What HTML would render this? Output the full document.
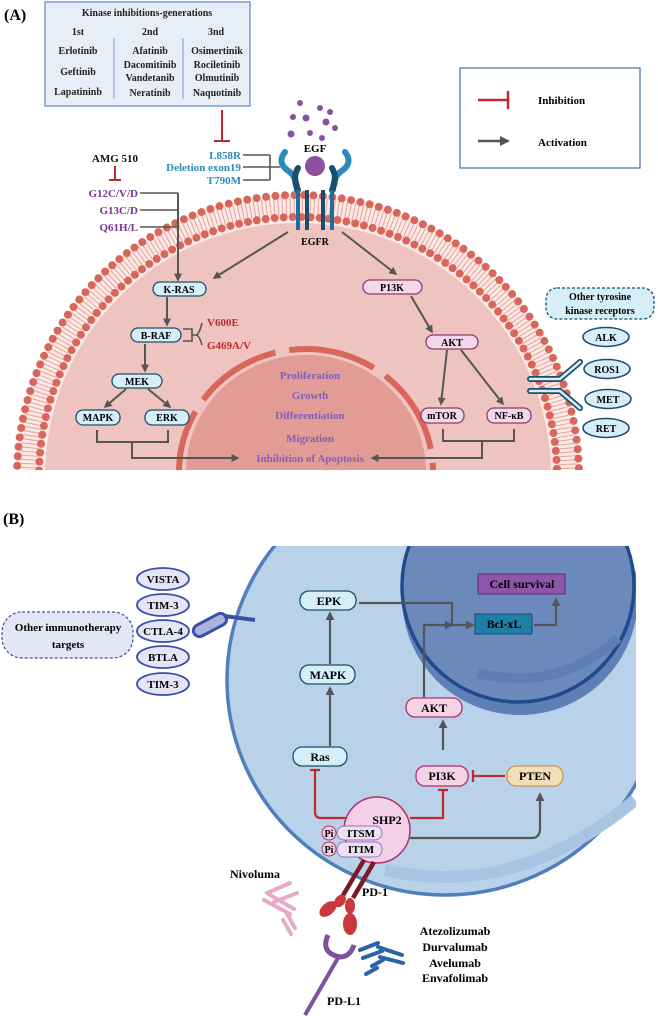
<!DOCTYPE html>
<html><head><meta charset="utf-8"><style>
body{margin:0;background:#fff;overflow:hidden}
svg{display:block}
text{font-family:"Liberation Serif",serif;font-weight:bold}
</style></head><body>
<svg width="658" height="1016" viewBox="0 0 658 1016" xmlns="http://www.w3.org/2000/svg">
<defs>
<marker id="ga" viewBox="0 0 10 10" refX="8" refY="5" markerWidth="4" markerHeight="4" orient="auto"><path d="M0,0L10,5L0,10z" fill="#555"/></marker>
<clipPath id="ca"><rect x="0" y="0" width="658" height="470"/></clipPath>
<clipPath id="cb"><rect x="0" y="546" width="636" height="470"/></clipPath>
</defs>

<!-- ===== PART A ===== -->
<text x="4" y="20" font-size="16">(A)</text>
<g clip-path="url(#ca)">
<ellipse cx="298" cy="476" rx="281" ry="281" fill="#fbe9e7"/>
<ellipse cx="298" cy="476" rx="270" ry="270" fill="none" stroke="#e8a39a" stroke-width="18" stroke-dasharray="1 3"/>
<ellipse cx="298" cy="476" rx="281" ry="281" fill="none" stroke="#d9665a" stroke-width="8" stroke-linecap="round" stroke-dasharray="0 9.5"/>
<ellipse cx="298" cy="476" rx="259" ry="259" fill="none" stroke="#d9665a" stroke-width="8" stroke-linecap="round" stroke-dasharray="0 9"/>
<ellipse cx="298" cy="476" rx="253" ry="253" fill="#efc4c0"/>
<ellipse cx="306" cy="472" rx="120" ry="117" fill="#e29b95"/>
<ellipse cx="306" cy="472" rx="127" ry="123" fill="none" stroke="#d9665a" stroke-width="6" stroke-dasharray="88 14" stroke-dashoffset="40"/>
</g>
<!-- kinase box -->
<rect x="45" y="2" width="205" height="104" fill="#e8eef7" stroke="#7c9ccc" stroke-width="1.5"/>
<g font-size="10" text-anchor="middle" fill="#222">
<text x="147" y="16">Kinase inhibitions-generations</text>
<text x="78" y="35">1st</text><text x="150" y="35">2nd</text><text x="216" y="35">3nd</text>
<text x="78" y="54">Erlotinib</text><text x="78" y="75">Geftinib</text><text x="78" y="95">Lapatininb</text>
<text x="150" y="54">Afatinib</text><text x="150" y="68">Dacomitinib</text><text x="150" y="81">Vandetanib</text><text x="150" y="96">Neratinib</text>
<text x="217" y="54">Osimertinik</text><text x="217" y="68">Rociletinib</text><text x="217" y="81">Olmutinib</text><text x="217" y="96">Naquotinib</text>
</g>
<line x1="114" y1="38" x2="114" y2="99" stroke="#7c9ccc"/><line x1="183" y1="38" x2="183" y2="99" stroke="#7c9ccc"/>
<!-- legend -->
<rect x="460" y="68" width="180" height="100" fill="#fff" stroke="#4a6fa8" stroke-width="1.2"/>
<line x1="478" y1="100" x2="508" y2="100" stroke="#c0282d" stroke-width="2.5"/><line x1="508" y1="91" x2="508" y2="109" stroke="#c0282d" stroke-width="2.5"/>
<text x="538" y="104" font-size="11">Inhibition</text>
<line x1="478" y1="141" x2="508" y2="141" stroke="#555" stroke-width="2.5" marker-end="url(#ga)"/>
<text x="538" y="146" font-size="11">Activation</text>
<line x1="222" y1="110" x2="222" y2="141" stroke="#c0282d" stroke-width="2"/><line x1="214" y1="141" x2="230" y2="141" stroke="#c0282d" stroke-width="2"/>
<g font-size="11" fill="#2a8ab8" text-anchor="end">
<text x="241" y="159">L858R</text><text x="241" y="171">Deletion exon19</text><text x="241" y="184">T790M</text></g>
<path d="M243,155H270M243,167H270M243,180H270M270,155V180M270,167H280" stroke="#555" stroke-width="1.6" fill="none"/>
<text x="115" y="162" font-size="11" text-anchor="middle" fill="#111">AMG 510</text>
<line x1="115" y1="166" x2="115" y2="180" stroke="#c0282d" stroke-width="2"/><line x1="109" y1="180" x2="121" y2="180" stroke="#c0282d" stroke-width="2"/>
<g font-size="11" fill="#7b3294" text-anchor="end">
<text x="138" y="197">G12C/V/D</text><text x="138" y="214">G13C/D</text><text x="138" y="231">Q61H/L</text></g>
<path d="M140,193H178M140,210H178M140,227H178" stroke="#555" stroke-width="1.6"/>
<line x1="178" y1="193" x2="178" y2="280" stroke="#555" stroke-width="2" marker-end="url(#ga)"/>
<g fill="#8e4fa0"><circle cx="293" cy="117" r="3"/><circle cx="306" cy="118" r="3.5"/><circle cx="320" cy="108" r="3"/><circle cx="326" cy="122" r="3.5"/><circle cx="291" cy="134" r="3.5"/><circle cx="310" cy="133" r="3"/><circle cx="322" cy="138" r="3"/><circle cx="335" cy="128" r="3"/><circle cx="300" cy="103" r="3"/><circle cx="330" cy="112" r="3"/></g>
<g fill="none" stroke-linecap="round">
<path d="M285,152 q-8,10 2,18 q10,6 10,20" stroke="#2a8ab8" stroke-width="6"/>
<path d="M345,152 q8,10 -2,18 q-10,6 -10,20" stroke="#2a8ab8" stroke-width="6"/>
<path d="M298,168 q-6,10 0,22" stroke="#1b4e6b" stroke-width="6"/>
<path d="M332,168 q6,10 0,22" stroke="#1b4e6b" stroke-width="6"/>
</g>
<circle cx="315" cy="166" r="10" fill="#8e4fa0"/>
<text x="315" y="152" font-size="11" text-anchor="middle">EGF</text>
<g stroke-width="4"><line x1="298" y1="190" x2="298" y2="230" stroke="#1b6fa0"/><line x1="307" y1="190" x2="307" y2="230" stroke="#1b4e6b"/><line x1="323" y1="190" x2="323" y2="230" stroke="#1b4e6b"/><line x1="332" y1="190" x2="332" y2="230" stroke="#1b6fa0"/></g>
<text x="315" y="245" font-size="10" text-anchor="middle">EGFR</text>
<g stroke="#555" stroke-width="2" fill="none" marker-end="url(#ga)">
<line x1="288" y1="232" x2="214" y2="278"/>
<line x1="342" y1="232" x2="396" y2="274"/>
<line x1="167" y1="297" x2="167" y2="325"/>
<line x1="145" y1="344" x2="145" y2="371"/>
<line x1="126" y1="389" x2="105" y2="407"/>
<line x1="148" y1="389" x2="170" y2="407"/>
<line x1="411" y1="296" x2="432" y2="332"/>
<line x1="447" y1="350" x2="441" y2="404"/>
<line x1="461" y1="350" x2="503" y2="404"/>
<path d="M97,430V442H168V430M132,442V458H238"/>
<path d="M443,429V441H514V429M482,441V458H372"/>
</g>
<path d="M183,329H192V341H183M192,335H196" stroke="#555" stroke-width="1.6" fill="none"/>
<path d="M196,335q3,0 6,-12M196,335q3,0 6,10" stroke="#555" stroke-width="1.6" fill="none"/>
<text x="207" y="326" font-size="11" fill="#c0282d">V600E</text><text x="207" y="349" font-size="11" fill="#c0282d">G469A/V</text>
<g stroke="#1b4e6b" stroke-width="1.3" fill="#d6eef8">
<rect x="153" y="282" width="53" height="14" rx="7"/><rect x="131" y="328" width="50" height="14" rx="7"/><rect x="112" y="374" width="50" height="14" rx="7"/><rect x="76" y="410" width="44" height="15" rx="7"/><rect x="145" y="410" width="44" height="15" rx="7"/>
</g>
<g stroke="#8e3b6e" stroke-width="1.3" fill="#f2d8ea">
<rect x="363" y="280" width="59" height="14" rx="7"/><rect x="426" y="335" width="52" height="14" rx="7"/><rect x="421" y="408" width="43" height="15" rx="7"/><rect x="487" y="408" width="44" height="15" rx="7"/>
</g>
<g font-size="10" text-anchor="middle">
<text x="179" y="293">K-RAS</text><text x="156" y="339">B-RAF</text><text x="137" y="385">MEK</text><text x="98" y="421">MAPK</text><text x="167" y="421">ERK</text>
<text x="392" y="291">P13K</text><text x="452" y="346">AKT</text><text x="442" y="419">mTOR</text><text x="509" y="419">NF-κB</text>
</g>
<g font-size="11" fill="#8060b8" text-anchor="middle">
<text x="310" y="379">Proliferation</text><text x="310" y="399">Growth</text><text x="310" y="419">Differentiation</text><text x="310" y="442">Migration</text><text x="310" y="462">Inhibition of Apoptosis</text>
</g>
<rect x="546" y="288" width="108" height="31" rx="11" fill="#d6eef8" stroke="#1b4e6b" stroke-width="1.3" stroke-dasharray="3 2"/>
<text x="600" y="300" font-size="10" text-anchor="middle">Other tyrosine</text><text x="600" y="314" font-size="10" text-anchor="middle">kinase receptors</text>
<g fill="#d6eef8" stroke="#1b4e6b" stroke-width="1.5">
<ellipse cx="606" cy="337" rx="23" ry="9.5"/><ellipse cx="607" cy="369" rx="23" ry="9.5"/><ellipse cx="608" cy="399" rx="23" ry="9.5"/><ellipse cx="606" cy="428" rx="23" ry="9.5"/></g>
<g font-size="10" text-anchor="middle"><text x="606" y="341">ALK</text><text x="607" y="373">ROS1</text><text x="608" y="403">MET</text><text x="606" y="432">RET</text></g>
<g fill="none" stroke="#1b4e6b" stroke-width="6" stroke-linecap="round"><path d="M530,379H560L580,362M530,391H560L580,408"/></g>
<g fill="none" stroke="#d6eef8" stroke-width="2.5" stroke-linecap="round"><path d="M530,379H560L580,362M530,391H560L580,408"/></g>

<!-- ===== PART B ===== -->
<text x="3" y="524" font-size="16">(B)</text>
<g clip-path="url(#cb)">
<ellipse cx="445" cy="680" rx="218" ry="215" fill="#b9d2ea" stroke="#4f7fbd" stroke-width="3.5"/>
<path d="M385,870 q130,30 250,-70" stroke="#a9c4e2" stroke-width="12" fill="none"/>
<circle cx="520" cy="597" r="118" fill="#5f80b5"/>
<circle cx="518" cy="586" r="116" fill="#6b89bb" stroke="#1f4a8c" stroke-width="3.5"/>
<path d="M478,673 q80,20 140,-35" stroke="#5f7fb4" stroke-width="10" fill="none"/>
</g>
<rect x="2" y="612" width="131" height="46" rx="20" fill="#e4e6f5" stroke="#3b4fa8" stroke-width="1.2" stroke-dasharray="3 2"/>
<text x="68" y="631" font-size="11" text-anchor="middle">Other immunotherapy</text><text x="68" y="648" font-size="11" text-anchor="middle">targets</text>
<g fill="#e4e6f5" stroke="#3b4fa8" stroke-width="1.8">
<ellipse cx="163" cy="579" rx="26" ry="11"/><ellipse cx="163" cy="605" rx="26" ry="11"/><ellipse cx="163" cy="631" rx="26" ry="11"/><ellipse cx="163" cy="657" rx="26" ry="11"/><ellipse cx="163" cy="684" rx="26" ry="11"/></g>
<g font-size="11" text-anchor="middle"><text x="163" y="583">VISTA</text><text x="163" y="609">TIM-3</text><text x="163" y="635">CTLA-4</text><text x="163" y="661">BTLA</text><text x="163" y="688">TIM-3</text></g>
<rect x="192" y="619" width="36" height="12" rx="6" transform="rotate(-28 210 625)" fill="#aab3e0" stroke="#3b4fa8" stroke-width="3"/>
<line x1="224" y1="616" x2="255" y2="620" stroke="#3b4fa8" stroke-width="4"/>
<g stroke="#555" stroke-width="2.2" fill="none" marker-end="url(#ga)">
<line x1="330" y1="746" x2="330" y2="688"/>
<line x1="330" y1="664" x2="330" y2="613"/>
<line x1="443" y1="750" x2="443" y2="721"/>
<path d="M359,603H452V625H473"/>
<path d="M424,697V625H452"/>
<path d="M534,625H556V599"/>
<path d="M410,838H532Q540,838 540,828V794"/>
</g>
<g stroke="#c0282d" stroke-width="2.2" fill="none">
<path d="M315,770V812Q315,818 321,818H346"/><line x1="310" y1="770" x2="320" y2="770"/>
<path d="M410,818H443V790"/><line x1="438" y1="790" x2="448" y2="790"/>
<line x1="505" y1="776" x2="473" y2="776"/><line x1="473" y1="770" x2="473" y2="782"/>
</g>
<g stroke="#1b4e6b" stroke-width="1.3" fill="#d6eef8">
<rect x="300" y="591" width="56" height="19" rx="9"/><rect x="300" y="665" width="55" height="19" rx="9"/><rect x="293" y="747" width="54" height="19" rx="9"/></g>
<g stroke="#b0306e" stroke-width="1.3" fill="#f6d3e4">
<rect x="406" y="698" width="56" height="19" rx="9"/><rect x="416" y="766" width="52" height="20" rx="9"/></g>
<rect x="507" y="766" width="56" height="20" rx="9" fill="#f3dcb8" stroke="#c59a50" stroke-width="1.3"/>
<rect x="478" y="574" width="87" height="20" fill="#8e55a8" stroke="#5c2d7a"/>
<rect x="475" y="614" width="57" height="20" fill="#1f7fa6" stroke="#154e70"/>
<g font-size="12" text-anchor="middle"><text x="329" y="605">EPK</text><text x="328" y="679">MAPK</text><text x="320" y="761">Ras</text><text x="434" y="712">AKT</text><text x="442" y="780">PI3K</text><text x="535" y="780">PTEN</text><text x="522" y="588">Cell survival</text><text x="504" y="628">Bcl-xL</text></g>
<circle cx="377" cy="830" r="33" fill="#f3d0e6" stroke="#b0306e" stroke-width="1.5"/>
<text x="387" y="824" font-size="12" text-anchor="middle">SHP2</text>
<rect x="337" y="826" width="45" height="14" rx="7" fill="#ece0f3" stroke="#9a6fbf"/><rect x="337" y="842" width="45" height="15" rx="7" fill="#ece0f3" stroke="#9a6fbf"/>
<circle cx="329" cy="833" r="7" fill="#f3d0e6" stroke="#b0306e"/><circle cx="329" cy="849" r="7" fill="#f3d0e6" stroke="#b0306e"/>
<g font-size="11" text-anchor="middle"><text x="361" y="837">ITSM</text><text x="361" y="853">ITIM</text><text x="329" y="837" font-size="10">Pi</text><text x="329" y="853" font-size="10">Pi</text></g>
<g stroke="#7a1a24" stroke-width="4.5"><line x1="364" y1="860" x2="342" y2="897"/><line x1="374" y1="862" x2="353" y2="898"/></g>
<g fill="#c8383c"><ellipse cx="328" cy="909" rx="6" ry="10" transform="rotate(50 328 909)"/><ellipse cx="340" cy="901" rx="5" ry="7" transform="rotate(40 340 901)"/><ellipse cx="350" cy="906" rx="5" ry="8"/><ellipse cx="350" cy="924" rx="7" ry="11"/></g>
<text x="362" y="896" font-size="12">PD-1</text>
<text x="230" y="878" font-size="12">Nivoluma</text>
<g stroke="#e8aac8" stroke-width="4" fill="none" stroke-linecap="round"><path d="M267,893L290,883M274,902L297,893M267,893L294,909M264,900L290,914M287,914L295,928M283,920L291,934"/></g>
<path d="M328,935 q-8,18 12,22 q10,0 14,-12" fill="none" stroke="#7d52a0" stroke-width="5"/>
<line x1="338" y1="958" x2="305" y2="1015" stroke="#7d52a0" stroke-width="4"/>
<text x="327" y="1005" font-size="12">PD-L1</text>
<g stroke="#2b63a8" stroke-width="4" fill="none" stroke-linecap="round"><path d="M360,950L378,943M363,958L382,951M378,947L402,955M380,957L403,963M372,966L383,960M366,974L377,968"/></g>
<g font-size="12" text-anchor="middle"><text x="455" y="935">Atezolizumab</text><text x="455" y="951">Durvalumab</text><text x="455" y="967">Avelumab</text><text x="455" y="982">Envafolimab</text></g>
</svg>
</body></html>
